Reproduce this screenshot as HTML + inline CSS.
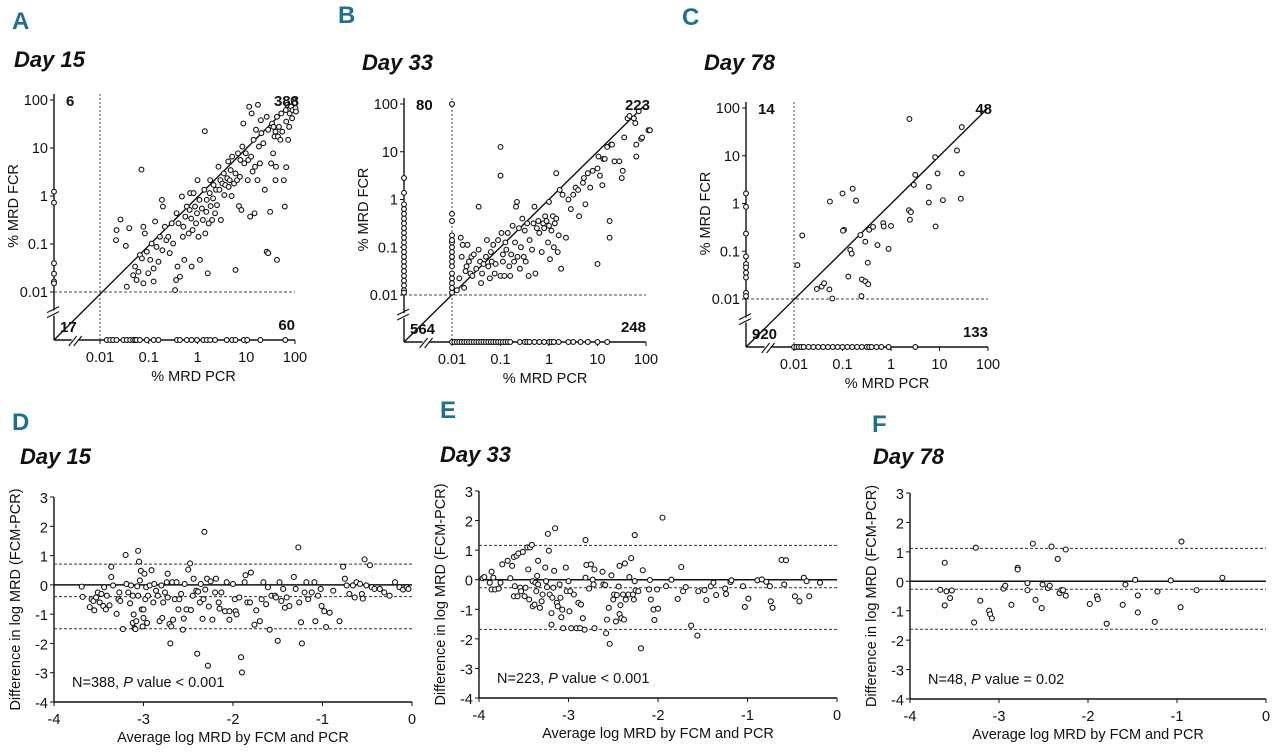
<!DOCTYPE html>
<html><head><meta charset="utf-8">
<style>
html,body{margin:0;padding:0;background:#fff;}
svg text{font-family:"Liberation Sans",sans-serif;fill:#111;}
.let{font-size:24px;font-weight:bold;fill:#1f6f8f;}
.day{font-size:22px;font-weight:bold;font-style:italic;fill:#111;}
.tk{font-size:14.5px;}
.cnt{font-size:15px;font-weight:bold;}
</style></head>
<body>
<svg id="fig" width="1280" height="747" viewBox="0 0 1280 747" xmlns="http://www.w3.org/2000/svg">
<text class="let" x="12" y="29">A</text>
<text class="day" x="14" y="67">Day 15</text>
<text class="let" x="338" y="23">B</text>
<text class="day" x="362" y="70">Day 33</text>
<text class="let" x="682" y="25">C</text>
<text class="day" x="704" y="70">Day 78</text>
<text class="let" x="12" y="430">D</text>
<text class="day" x="20" y="464">Day 15</text>
<text class="let" x="440" y="418">E</text>
<text class="day" x="440" y="462">Day 33</text>
<text class="let" x="872" y="432">F</text>
<text class="day" x="873" y="464">Day 78</text>
</svg>
<script>
const aPcr=[-1.67,-1.66,-1.58,-1.47,-1.45,-1.40,-1.32,-1.28,-1.25,-1.21,-1.18,-1.14,-1.11,-1.11,-1.08,-1.04,-1.01,-0.97,-0.94,-0.90,-0.90,-0.87,-0.84,-0.80,-0.77,-0.73,-0.72,-0.71,-0.67,-0.64,-0.60,-0.57,-0.53,-0.50,-0.46,-0.44,-0.43,-0.41,-0.39,-0.36,-0.32,-0.30,-0.29,-0.27,-0.25,-0.22,-0.18,-0.16,-0.15,-0.13,-0.12,-0.10,-0.08,-0.05,-0.03,-0.01,0.00,0.02,0.04,0.05,0.09,0.11,0.14,0.16,0.18,0.19,0.21,0.23,0.25,0.26,0.27,0.30,0.32,0.33,0.36,0.38,0.40,0.43,0.45,0.47,0.48,0.51,0.54,0.55,0.57,0.61,0.63,0.64,0.66,0.68,0.70,0.71,0.75,0.78,0.78,0.81,0.83,0.85,0.87,0.88,0.90,0.92,0.94,0.96,0.99,1.03,1.04,1.06,1.08,1.10,1.11,1.13,1.15,1.17,1.18,1.20,1.23,1.24,1.26,1.28,1.30,1.31,1.35,1.38,1.42,1.42,1.45,1.45,1.49,1.51,1.53,1.55,1.56,1.58,1.60,1.61,1.63,1.63,1.65,1.67,1.70,1.72,1.74,1.77,1.79,1.81,1.82,1.84,1.86,1.88,1.89,1.92,1.94,1.95,1.97,1.99,2.01,2.02,1.82,1.60,-1.15,0.15];
const aFcr=[-0.92,-0.71,-0.49,-1.04,-1.89,-0.67,-1.65,-1.47,-1.75,-1.58,-1.23,-1.30,-1.82,-0.64,-0.78,-1.16,-1.61,-1.33,-0.99,-1.51,-1.78,-0.53,-1.06,-1.37,-0.85,-0.08,-1.13,-0.22,-0.64,-0.92,-0.85,-1.19,-0.57,-0.99,-1.96,-1.75,-0.36,-1.47,-0.57,-1.68,-0.01,-0.85,-0.64,-1.33,-0.43,-0.22,-0.78,-0.29,0.06,-0.47,-1.47,-0.71,0.06,-0.22,-0.57,-0.36,0.33,-0.85,-0.08,-1.33,-0.26,-0.50,0.13,-0.78,-0.33,-0.08,-1.61,-0.57,0.06,0.33,-0.21,-0.50,-0.05,0.23,-0.36,0.13,-0.19,0.61,0.13,0.33,-0.50,0.26,0.47,0.02,0.23,0.37,0.72,0.19,0.33,0.54,0.00,0.82,0.26,-1.54,0.47,0.33,0.89,-0.21,0.40,0.75,-0.29,1.03,1.51,0.68,0.89,0.33,0.75,1.86,-0.43,0.82,1.72,0.51,1.17,-0.36,0.61,1.38,0.33,1.90,1.03,0.68,1.58,1.31,1.10,0.13,1.65,-1.16,-1.19,1.38,-0.33,0.68,1.51,0.89,1.44,1.24,1.34,0.61,1.65,-1.33,1.24,1.44,1.17,1.72,1.34,0.33,-0.22,1.79,1.55,1.90,1.17,1.44,1.72,1.86,1.62,1.79,2.00,1.93,1.83,1.76,0.60,0.33,0.55,1.35];
const aLeftFcr=[0.09,-0.14,-1.40,-1.62,-1.78,-1.82];
const aBottomPcr=[-1.86,-1.79,-1.73,-1.66,-1.52,-1.45,-1.38,-1.32,-1.28,-1.25,-1.18,-1.04,-0.90,-0.80,-0.42,-0.36,-0.22,-0.12,-0.01,0.12,0.19,0.26,0.36,0.60,0.71,0.78,0.95,1.02,1.29,1.80];

const bPcr=[-2,-2,-2,-2,-2,-2,-2,-2,-2,-2,-2,-2,-2,-2,-2,-2,-1.9,-1.85,-1.82,-1.8,-1.78,-1.75,-1.72,-1.7,-1.68,-1.65,-1.62,-1.6,-1.58,-1.55,-1.5,-1.45,-1.45,-1.42,-1.4,-1.38,-1.35,-1.3,-1.28,-1.25,-1.22,-1.2,-1.18,-1.15,-1.12,-1.1,-1.05,-1.0,-1.0,-1.0,-0.98,-0.95,-0.95,-0.92,-0.9,-0.88,-0.85,-0.82,-0.8,-0.78,-0.75,-0.72,-0.7,-0.68,-0.66,-0.65,-0.62,-0.6,-0.58,-0.55,-0.52,-0.5,-0.48,-0.45,-0.42,-0.4,-0.35,-0.32,-0.3,-0.28,-0.25,-0.22,-0.2,-0.15,-0.12,-0.1,-0.08,-0.05,-0.02,0.0,0.0,0.02,0.05,0.08,0.1,0.12,0.15,0.15,0.18,0.2,0.22,0.25,0.28,0.35,0.4,0.45,0.5,0.55,0.6,0.62,0.7,0.72,0.75,0.8,0.85,0.9,1.0,1.0,1.02,1.05,1.1,1.12,1.15,1.2,1.25,1.25,1.28,1.3,1.35,1.45,1.5,1.52,1.55,1.62,1.66,1.75,1.78,1.8,1.8,1.85,1.9,1.92,2.05,2.08];
const bFcr=[-1.95,-1.85,-1.75,-1.65,-1.55,-1.4,-1.3,-1.2,-1.1,-1.0,-0.9,-0.85,-0.75,-0.45,-0.3,2.0,-1.9,-1.65,-0.8,-1.2,-0.95,-1.85,-1.5,-1.4,-0.95,-1.3,-1.55,-1.2,-1.6,-1.15,-1.45,-1.05,-0.15,-1.3,-1.75,-1.55,-1.35,-1.2,-0.85,-1.4,-1.65,-1.1,-1.3,-0.95,-1.55,-1.35,-0.85,1.1,0.5,-1.6,-0.7,-1.15,-1.3,-1.6,-0.9,-1.05,-0.7,-1.4,-1.6,-1.15,-0.55,-1.3,-0.9,-0.15,-0.05,-1.2,-0.6,-1.45,-1.0,-0.4,-1.2,-0.65,-1.3,-0.5,-1.6,-0.85,-1.05,-0.5,-0.15,-1.55,-0.6,-0.45,-0.7,-1.1,-0.5,-0.6,-0.35,-0.45,-0.9,-0.05,-0.55,-1.25,-0.65,-0.35,-1.0,-0.5,0.55,-0.4,-1.1,-0.75,0.2,-1.45,0.1,-0.8,0.0,-0.2,0.1,0.25,0.2,-0.35,0.35,0.45,-0.1,0.55,0.25,0.6,-1.35,0.65,0.9,0.5,0.3,0.85,0.85,1.1,-0.45,-0.8,1.15,1.15,0.8,0.8,0.45,0.6,1.3,1.7,1.75,1.7,1.6,0.9,1.15,1.85,1.27,1.3,1.45,1.45];
const bLeftFcr=[0.45,0.14,-0.1,-0.2,-0.3,-0.4,-0.5,-0.6,-0.7,-0.8,-0.9,-1.0,-1.1,-1.2,-1.3,-1.4,-1.5,-1.6,-1.7,-1.8,-1.9,-1.95];
const bBottomPcr=[-2,-1.95,-1.9,-1.85,-1.8,-1.75,-1.7,-1.65,-1.6,-1.55,-1.5,-1.45,-1.4,-1.35,-1.3,-1.25,-1.2,-1.15,-1.1,-1.05,-1.0,-0.95,-0.9,-0.85,-0.8,-0.6,-0.5,-0.45,-0.4,-0.3,-0.2,-0.1,0.0,0.05,0.1,0.2,0.4,0.5,0.65,0.8,1.0,1.2];

const cPcr=[-1.93,-1.83,-1.53,-1.43,-1.38,-1.27,-1.21,-1.26,-1.00,-0.97,-0.99,-0.79,-0.72,-0.88,-0.84,-0.81,-0.63,-0.61,-0.60,-0.53,-0.47,-0.48,-0.53,-0.28,-0.45,-0.37,-0.16,-0.15,-0.05,0.00,0.38,0.37,0.39,0.41,0.47,0.50,0.78,0.78,0.92,0.91,0.96,1.07,1.36,1.44,1.46,1.46];
const cFcr=[-1.29,-0.67,-1.79,-1.74,-1.67,-1.80,-1.99,0.04,0.21,-0.55,-0.57,0.31,0.06,-1.53,-0.97,-1.05,-0.66,-1.94,-1.59,-1.63,-1.69,-1.24,-0.80,-0.87,-0.55,-0.49,-0.41,-0.48,-0.95,-0.47,1.77,-0.14,-0.34,-0.18,0.39,0.60,0.35,0.02,-0.48,0.97,0.63,0.07,1.11,0.10,0.63,1.60];
const cLeftFcr=[0.21,-0.07,-0.63,-1.11,-1.27,-1.34,-1.45,-1.55,-1.87,-1.94];
const cBottomPcr=[-2,-1.95,-1.9,-1.85,-1.8,-1.7,-1.6,-1.5,-1.4,-1.3,-1.2,-1.1,-1.0,-0.9,-0.8,-0.7,-0.6,-0.5,-0.45,-0.4,-0.3,-0.2,-0.05,0.5];

const dAvg=[-3.69,-3.68,-3.60,-3.58,-3.56,-3.55,-3.53,-3.51,-3.49,-3.47,-3.45,-3.44,-3.42,-3.41,-3.38,-3.36,-3.36,-3.34,-3.30,-3.28,-3.27,-3.26,-3.23,-3.20,-3.19,-3.17,-3.15,-3.14,-3.12,-3.12,-3.11,-3.10,-3.09,-3.08,-3.07,-3.06,-3.06,-3.05,-3.04,-3.03,-3.02,-3.01,-3.00,-3.00,-2.99,-2.98,-2.97,-2.96,-2.95,-2.93,-2.91,-2.89,-2.88,-2.86,-2.84,-2.82,-2.80,-2.79,-2.78,-2.76,-2.74,-2.73,-2.73,-2.71,-2.70,-2.69,-2.68,-2.67,-2.65,-2.63,-2.61,-2.60,-2.58,-2.56,-2.55,-2.54,-2.52,-2.50,-2.48,-2.47,-2.45,-2.44,-2.41,-2.40,-2.39,-2.37,-2.36,-2.34,-2.33,-2.32,-2.31,-2.29,-2.28,-2.27,-2.25,-2.23,-2.20,-2.19,-2.16,-2.15,-2.13,-2.09,-2.07,-2.04,-2.04,-2.00,-1.98,-1.97,-1.96,-1.93,-1.91,-1.90,-1.87,-1.86,-1.84,-1.81,-1.80,-1.76,-1.74,-1.70,-1.68,-1.66,-1.63,-1.61,-1.59,-1.57,-1.53,-1.52,-1.50,-1.48,-1.46,-1.44,-1.42,-1.40,-1.37,-1.32,-1.30,-1.27,-1.26,-1.24,-1.23,-1.20,-1.18,-1.16,-1.12,-1.09,-1.08,-1.05,-1.02,-1.01,-0.98,-0.96,-0.92,-0.88,-0.81,-0.77,-0.75,-0.73,-0.70,-0.66,-0.64,-0.62,-0.58,-0.56,-0.55,-0.53,-0.51,-0.47,-0.45,-0.42,-0.36,-0.31,-0.25,-0.19,-0.14,-0.10,-0.06,-0.04];
const dDiff=[-0.06,-0.41,-0.76,-0.49,-0.55,-0.87,-0.43,-0.26,-0.60,-0.31,-0.72,-0.08,-0.84,-0.37,-0.70,0.27,0.62,-0.02,-0.99,-0.49,-0.26,-0.55,-1.51,1.02,0.03,-0.26,-0.63,-0.02,-0.37,-1.30,-1.01,-1.48,-1.51,-1.24,-0.05,-0.37,1.16,0.79,0.15,0.48,-0.84,-1.42,-1.13,-0.84,0.38,-0.49,-0.08,-1.30,-0.37,-0.02,0.50,-0.60,0.03,-0.20,-0.37,-1.24,-0.02,-1.13,-0.60,-0.26,0.09,0.38,-0.43,-1.34,-2.00,-1.42,0.09,-1.19,-0.49,0.09,-0.84,-0.49,-0.31,-1.53,-1.15,0.03,-0.84,0.52,0.73,-0.86,-0.37,0.21,-0.20,-2.35,-0.23,-0.60,0.03,-1.16,-0.49,1.81,-0.16,0.21,-2.76,-0.74,0.12,-1.19,-0.26,0.21,-0.60,-0.81,-0.26,-0.90,0.09,-0.90,-1.19,0.03,-0.49,-0.90,-1.01,-0.43,-2.47,-2.99,0.09,0.33,-0.60,-0.60,0.42,-1.36,-0.87,-1.24,-0.49,0.09,-0.66,-0.08,-1.53,-0.37,-0.37,-0.43,-1.91,0.09,-0.55,-0.14,-0.78,-0.43,-0.72,0.27,-0.14,1.28,-0.60,-1.28,-2.00,-0.26,0.09,-0.49,-0.26,0.09,-1.24,-0.37,-0.14,-0.72,-0.90,-1.44,-0.95,-0.20,-1.24,0.62,0.21,-0.02,-0.31,-0.02,-0.43,0.09,0.03,-0.31,-0.47,0.87,-0.02,0.67,-0.08,-0.14,-0.14,-0.26,-0.37,0.09,-0.08,-0.16,-0.08,-0.14];
const dLines=[-0.40,0.71,-1.50];

const eAvg=[-3.96,-3.94,-3.88,-3.86,-3.86,-3.82,-3.84,-3.78,-3.76,-3.74,-3.68,-3.65,-3.63,-3.61,-3.60,-3.61,-3.58,-3.57,-3.56,-3.54,-3.53,-3.51,-3.49,-3.48,-3.46,-3.45,-3.44,-3.43,-3.41,-3.40,-3.40,-3.38,-3.37,-3.36,-3.35,-3.34,-3.34,-3.32,-3.30,-3.29,-3.26,-3.25,-3.24,-3.23,-3.22,-3.21,-3.19,-3.19,-3.18,-3.17,-3.16,-3.15,-3.13,-3.12,-3.10,-3.09,-3.08,-3.07,-3.06,-3.03,-3.02,-3.00,-2.99,-2.98,-2.97,-2.94,-2.91,-2.89,-2.87,-2.86,-2.84,-2.82,-2.81,-2.81,-2.80,-2.77,-2.75,-2.73,-2.72,-2.71,-2.71,-2.62,-2.61,-2.59,-2.58,-2.57,-2.55,-2.54,-2.52,-2.50,-2.49,-2.47,-2.46,-2.44,-2.43,-2.43,-2.42,-2.41,-2.39,-2.38,-2.37,-2.36,-2.33,-2.32,-2.30,-2.28,-2.27,-2.26,-2.26,-2.25,-2.22,-2.19,-2.17,-2.10,-2.09,-2.08,-2.05,-2.04,-2.01,-2.00,-1.95,-1.91,-1.85,-1.78,-1.74,-1.72,-1.69,-1.63,-1.56,-1.55,-1.48,-1.46,-1.41,-1.38,-1.35,-1.25,-1.24,-1.19,-1.18,-1.05,-1.03,-0.99,-0.89,-0.84,-0.79,-0.75,-0.74,-0.72,-0.62,-0.57,-0.59,-0.47,-0.42,-0.37,-0.34,-0.31,-0.19];
const eDiff=[0.05,0.09,-0.10,0.27,-0.33,-0.33,0.07,-0.30,-0.10,0.52,0.64,0.05,0.47,0.77,-0.22,-0.56,0.81,-0.56,0.89,-0.27,-0.39,0.94,-0.56,-0.27,1.09,0.35,-0.67,1.09,1.18,-0.05,-0.90,-0.84,-0.10,-0.39,0.13,0.64,-0.16,-0.95,-0.73,-0.50,0.41,-0.05,-0.25,1.55,0.98,-0.50,-1.13,-1.52,-0.61,-0.27,0.30,1.74,-0.78,-0.90,-0.16,-0.61,-1.27,-1.01,-1.64,0.41,-0.39,-0.05,-1.07,-0.39,-1.64,-0.50,-1.64,-0.78,-1.64,-0.84,-1.30,-1.69,1.34,0.07,0.50,-0.30,0.52,0.00,-0.16,-1.64,0.35,0.27,-0.16,-0.18,-1.81,-1.35,-0.95,-2.17,0.15,-0.67,-0.50,-1.41,-0.52,-0.23,0.47,-1.16,-0.86,-1.30,-0.50,-1.35,0.55,-0.67,-0.50,0.09,0.73,-0.50,-0.67,-0.05,1.51,-0.36,-0.39,-2.32,0.32,-0.33,-0.01,-0.67,-1.01,-1.36,-0.33,-0.98,2.10,-0.22,0.00,-0.65,0.43,-0.39,-0.25,-1.55,-1.89,-0.39,-0.35,-0.69,-0.22,-0.10,-0.52,-0.30,-0.48,-0.08,-0.02,-0.22,-0.92,-0.64,-0.02,0.01,-0.07,-0.22,-0.73,-0.95,0.67,0.66,-0.16,-0.56,-0.73,0.07,-0.05,-0.56,-0.10];
const eLines=[-0.27,1.16,-1.68];

const fAvg=[-3.66,-3.61,-3.61,-3.59,-3.55,-3.53,-3.26,-3.28,-3.21,-3.11,-3.10,-3.08,-2.95,-2.93,-2.86,-2.79,-2.79,-2.68,-2.68,-2.62,-2.59,-2.52,-2.51,-2.45,-2.43,-2.41,-2.34,-2.32,-2.30,-2.28,-2.25,-2.25,-1.98,-1.90,-1.89,-1.79,-1.61,-1.58,-1.47,-1.44,-1.44,-1.25,-1.22,-1.07,-0.96,-0.95,-0.78,-0.49];
const fDiff=[-0.29,0.63,-0.82,-0.34,-0.57,-0.31,1.14,-1.40,-0.66,-1.00,-1.12,-1.26,-0.25,-0.15,-0.80,0.46,0.40,-0.06,-0.30,1.28,-0.63,-0.91,-0.11,-0.23,-0.15,1.18,0.76,-0.40,-0.30,-0.30,1.08,-0.49,-0.77,-0.51,-0.61,-1.44,-0.80,-0.11,0.05,-0.48,-1.06,-1.38,-0.35,0.03,-0.88,1.35,-0.30,0.12];
const fLines=[-0.27,1.12,-1.63];

const logTicks=["0.01","0.1","1","10","100"];
const baYTicks=[3,2,1,0,-1,-2,-3,-4];
const baXTicks=[-4,-3,-2,-1,0];

const NS="http://www.w3.org/2000/svg";
const svg=document.getElementById('fig');
function mk(tag,attrs,parent){const e=document.createElementNS(NS,tag);for(const k in attrs)e.setAttribute(k,attrs[k]);(parent||svg).appendChild(e);return e;}
function txt(s,x,y,cls,anchor,parent){const t=mk('text',{x:x,y:y,class:cls||'tk','text-anchor':anchor||'start'},parent);t.textContent=s;return t;}

function scatterPanel(id,c,px,py,lp,bp,counts){
  const g=mk('g',{});
  
  
  const X=v=>c.x001+(v+2)*(c.x100-c.x001)/4;
  const Y=v=>c.y001-(v+2)*(c.y001-c.y100)/4;
  const yax=mk('line',{x1:c.ax,y1:c.y100-6,x2:c.ax,y2:c.yb,stroke:'#111','stroke-width':1.4},g);
  
  
  const xax=mk('line',{x1:c.ax,y1:c.yb,x2:c.x100,y2:c.yb,stroke:'#111','stroke-width':1.4},g);
  
  
  const by=c.yb-(c.yb-c.y001)*0.55, bx=c.ax+(c.x001-c.ax)*0.45;
  mk('rect',{x:c.ax-6,y:by-3,width:12,height:5,fill:'#fff'},g);
  mk('line',{x1:c.ax-7,y1:by-1,x2:c.ax+5,y2:by-7,stroke:'#111','stroke-width':1.1},g);
  mk('line',{x1:c.ax-7,y1:by+4,x2:c.ax+5,y2:by-2,stroke:'#111','stroke-width':1.1},g);
  mk('rect',{x:bx-3,y:c.yb-6,width:6,height:12,fill:'#fff'},g);
  mk('line',{x1:bx-6,y1:c.yb+6,x2:bx+2,y2:c.yb-4,stroke:'#111','stroke-width':1.1},g);
  mk('line',{x1:bx-1,y1:c.yb+6,x2:bx+7,y2:c.yb-4,stroke:'#111','stroke-width':1.1},g);
  mk('line',{x1:X(-2),y1:c.y100-6,x2:X(-2),y2:c.yb,stroke:'#444','stroke-width':1,'stroke-dasharray':'2,2'},g);
  mk('line',{x1:c.ax,y1:Y(-2),x2:c.x100,y2:Y(-2),stroke:'#444','stroke-width':1,'stroke-dasharray':'3,2'},g);
  const dl=mk('line',{x1:c.ax,y1:c.yb,x2:X(2),y2:Y(2),stroke:'#111','stroke-width':1.4},g);
  
  
  logTicks.forEach((s,i)=>{
    const v=i-2;
    mk('line',{x1:c.ax-4,y1:Y(v),x2:c.ax,y2:Y(v),stroke:'#111'},g);
    txt(s,c.ax-6,Y(v)+5,'tk','end',g);
    mk('line',{x1:X(v),y1:c.yb,x2:X(v),y2:c.yb+4,stroke:'#111'},g);
    txt(s,X(v),c.yb+22,'tk','middle',g);
  });
  const xt=txt('% MRD PCR',(c.x001+c.x100)/2-4,c.yb+41,'tk','middle',g);
  
  
  const yt=txt('% MRD FCR',0,0,'tk','middle',g);
  yt.setAttribute('transform','translate('+(c.ax-36)+','+((c.y100+c.y001)/2+10)+') rotate(-90)');
  
  
  const pt=(x,y)=>{const p=mk('circle',{cx:x,cy:y,r:2.4,fill:'#fff',stroke:'#111','stroke-width':1.1},g);
    
    };
  for(let i=0;i<px.length;i++)pt(X(px[i]),Y(py[i]));
  lp.forEach(v=>pt(c.ax,Y(v)));
  bp.forEach(v=>pt(X(v),c.yb));
  const cl=[[counts[0],c.ax+12,c.y100+6,'start'],[counts[1],c.x100+4,c.y100+6,'end'],[counts[2],c.ax+6,c.yb-8,'start'],[counts[3],c.x100,c.yb-10,'end']];
  cl.forEach(q=>{const t=txt(q[0],q[1],q[2],'cnt',q[3],g);
    
    });
}

function baPanel(id,c,xs,ys,lines,note){
  const g=mk('g',{});
  
  
  const X=v=>c.ax+(v+4)*(c.x0-c.ax)/4;
  const Y=v=>c.y3+(3-v)*(c.ym4-c.y3)/7;
  const ya=mk('line',{x1:c.ax,y1:c.y3,x2:c.ax,y2:c.ym4,stroke:'#111','stroke-width':1.4},g);
  
  
  const xa=mk('line',{x1:c.ax,y1:c.ym4,x2:c.x0,y2:c.ym4,stroke:'#111','stroke-width':1.4},g);
  
  
  baYTicks.forEach(v=>{mk('line',{x1:c.ax-4,y1:Y(v),x2:c.ax,y2:Y(v),stroke:'#111'},g);
    txt(String(v),c.ax-6,Y(v)+6,'tk','end',g).setAttribute('font-size','16');});
  baXTicks.forEach(v=>{mk('line',{x1:X(v),y1:c.ym4,x2:X(v),y2:c.ym4+4,stroke:'#111'},g);
    txt(String(v),X(v),c.ym4+22,'tk','middle',g).setAttribute('font-size','16');});
  const z=mk('line',{x1:c.ax,y1:Y(0),x2:c.x0,y2:Y(0),stroke:'#111','stroke-width':1.5},g);
  
  
  lines.forEach(v=>{const l=mk('line',{x1:c.ax,y1:Y(v),x2:c.x0,y2:Y(v),stroke:'#333','stroke-width':1,'stroke-dasharray':'3,2'},g);
    
    });
  for(let i=0;i<xs.length;i++){const p=mk('circle',{cx:X(xs[i]),cy:Y(ys[i]),r:2.5,fill:'#fff',stroke:'#111','stroke-width':1.1},g);
    
    }
  const n=mk('text',{x:c.ax+18,y:c.ym4-15,class:'tk','font-size':'13.5'},g);
  
  
  n.innerHTML=note[0]+', <tspan font-style="italic">P</tspan> value '+note[1];
  const xt=txt('Average log MRD by FCM and PCR',(c.ax+c.x0)/2,c.ym4+40,'tk','middle',g);
  xt.setAttribute('font-size','15');
  
  
  const yt=txt('Difference in log MRD (FCM-PCR)',0,0,'tk','middle',g);
  yt.setAttribute('font-size','14.5');
  yt.setAttribute('transform','translate('+(c.ax-34)+','+((c.y3+c.ym4)/2)+') rotate(-90)');
  
  
}

scatterPanel('a',{ax:54,x001:100,x100:295,y100:100,y001:292,yb:340},aPcr,aFcr,aLeftFcr,aBottomPcr,['6','388','17','60']);
scatterPanel('b',{ax:404,x001:452,x100:646,y100:104,y001:295,yb:342},bPcr,bFcr,bLeftFcr,bBottomPcr,['80','223','564','248']);
scatterPanel('c',{ax:746,x001:794,x100:988,y100:108,y001:299,yb:347},cPcr,cFcr,cLeftFcr,cBottomPcr,['14','48','920','133']);
baPanel('d',{ax:54,x0:412,y3:497,ym4:702},dAvg,dDiff,dLines,['N=388','&lt; 0.001']);
baPanel('e',{ax:479,x0:837,y3:491,ym4:698},eAvg,eDiff,eLines,['N=223','&lt; 0.001']);
baPanel('f',{ax:910,x0:1266,y3:493,ym4:699},fAvg,fDiff,fLines,['N=48','= 0.02']);
</script>
</body></html>
